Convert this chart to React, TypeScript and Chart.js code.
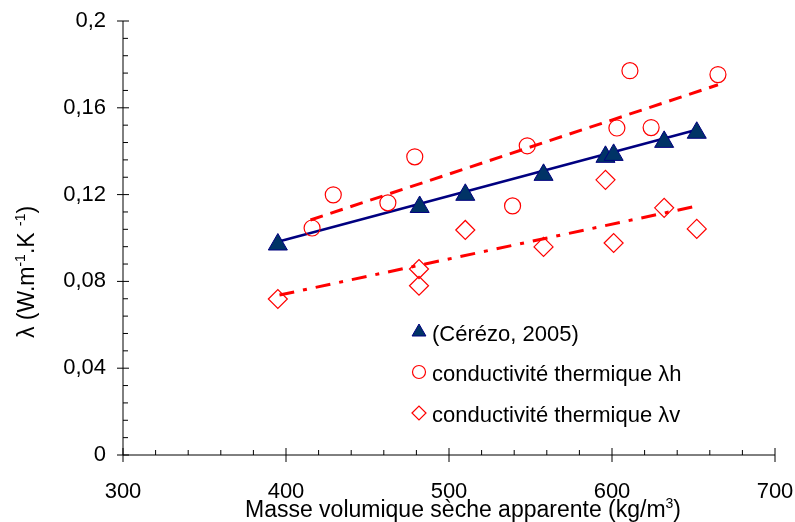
import React, { useEffect, useRef } from 'react';
import { Chart, registerables } from 'chart.js';

Chart.register(...registerables);

// ---- Data ----
const cerezoX = [395, 482, 510, 558, 596, 601, 632, 652];
const cerezoY = [0.097, 0.1143, 0.1199, 0.1291, 0.1374, 0.1383, 0.1443, 0.1485];

const lambdaHX = [416, 429, 462.5, 479, 539, 548, 603, 611, 624, 665];
const lambdaHY = [0.1046, 0.1199, 0.1162, 0.1374, 0.1148, 0.1425, 0.1507, 0.1771, 0.1509, 0.1753];

const lambdaVX = [395, 481.6, 481.6, 510, 558, 596, 601, 632, 652];
const lambdaVY = [0.0719, 0.0857, 0.078, 0.1037, 0.0959, 0.1268, 0.0977, 0.1139, 0.1042];

const fitCerezoX = [395, 652];
const fitCerezoY = [0.0983, 0.1499];
const fitHX = [415, 665];
const fitHY = [0.1083, 0.1706];
const fitVX = [396, 652];
const fitVY = [0.0737, 0.1147];

const xTicks = [300, 400, 500, 600, 700];
const xTickLabels = ['300', '400', '500', '600', '700'];
const yTicks = [0, 0.04, 0.08, 0.12, 0.16, 0.2];
const yTickLabels = ['0', '0,04', '0,08', '0,12', '0,16', '0,2'];

const seriesLabels = ['(Cérézo, 2005)', 'conductivité thermique λh', 'conductivité thermique λv'];

const FONT = '"Liberation Sans", Arial, sans-serif';
const NAVY = '#000080';
const NAVY_FILL = '#003366';
const RED = '#FF0000';

const toPts = (xs: number[], ys: number[]) => xs.map((x, i) => ({ x, y: ys[i] }));

function drawParts(ctx: CanvasRenderingContext2D, parts: { t: string; sup?: boolean }[], cx: number, baseY: number, size: number, supSize: number, raise: number) {
  const widths = parts.map((p) => {
    ctx.font = `${p.sup ? supSize : size}px ${FONT}`;
    return ctx.measureText(p.t).width;
  });
  const total = widths.reduce((a, b) => a + b, 0);
  let x = cx - total / 2;
  ctx.textAlign = 'left';
  ctx.textBaseline = 'alphabetic';
  parts.forEach((p, i) => {
    ctx.font = `${p.sup ? supSize : size}px ${FONT}`;
    ctx.fillText(p.t, x, p.sup ? baseY - raise : baseY);
    x += widths[i];
  });
}

const decorPlugin = {
  id: 'decor',
  afterDraw(chart: any) {
    const ctx: CanvasRenderingContext2D = chart.ctx;
    const xs = chart.scales.x;
    const ys = chart.scales.y;
    const ax = xs.getPixelForValue(xTicks[0]);
    const axEnd = xs.getPixelForValue(xTicks[xTicks.length - 1]);
    const ay = ys.getPixelForValue(yTicks[0]);
    const ayTop = ys.getPixelForValue(yTicks[yTicks.length - 1]);

    ctx.save();
    ctx.strokeStyle = '#000';
    ctx.lineWidth = 1;
    ctx.beginPath();
    ctx.moveTo(ax, ayTop);
    ctx.lineTo(ax, ay);
    ctx.lineTo(axEnd, ay);
    // y ticks: major every 0.04, minor every 0.008
    for (let i = 0; i <= 25; i++) {
      const py = ys.getPixelForValue(i * 0.008);
      if (i % 5 === 0) {
        ctx.moveTo(ax - 6, py);
        ctx.lineTo(ax + 6, py);
      } else {
        ctx.moveTo(ax, py);
        ctx.lineTo(ax + 5, py);
      }
    }
    // x ticks: major every 100, minor every 20
    for (let i = 0; i <= 20; i++) {
      const px = xs.getPixelForValue(300 + i * 20);
      if (i % 5 === 0) {
        ctx.moveTo(px, ay - 7);
        ctx.lineTo(px, ay + 7);
      } else {
        ctx.moveTo(px, ay - 5);
        ctx.lineTo(px, ay);
      }
    }
    ctx.stroke();

    // Tick labels
    ctx.fillStyle = '#000';
    ctx.font = `22px ${FONT}`;
    ctx.textAlign = 'right';
    ctx.textBaseline = 'middle';
    yTicks.forEach((v, i) => {
      ctx.fillText(yTickLabels[i], ax - 17, ys.getPixelForValue(v));
    });
    ctx.textAlign = 'center';
    ctx.textBaseline = 'alphabetic';
    xTicks.forEach((v, i) => {
      ctx.fillText(xTickLabels[i], xs.getPixelForValue(v), ay + 43);
    });

    // Axis titles
    drawParts(ctx, [{ t: 'Masse volumique sèche apparente (kg/m' }, { t: '3', sup: true }, { t: ')' }], 463, 517, 23, 14, 9);

    ctx.save();
    ctx.translate(34, 272);
    ctx.rotate(-Math.PI / 2);
    drawParts(ctx, [{ t: 'λ (W.m' }, { t: '-1', sup: true }, { t: '.K ' }, { t: '-1', sup: true }, { t: ')' }], 0, 0, 23, 14, 9);
    ctx.restore();

    // Legend
    const lx = 419;
    const rows = [332, 372, 413];
    ctx.beginPath();
    const r = 8;
    ctx.moveTo(lx, rows[0] - r);
    ctx.lineTo(lx + r * Math.sin((2 * Math.PI) / 3), rows[0] + r / 2);
    ctx.lineTo(lx - r * Math.sin((2 * Math.PI) / 3), rows[0] + r / 2);
    ctx.closePath();
    ctx.fillStyle = NAVY_FILL;
    ctx.fill();
    ctx.strokeStyle = NAVY;
    ctx.lineWidth = 1;
    ctx.stroke();
    ctx.beginPath();
    ctx.arc(lx, rows[1], 6.5, 0, Math.PI * 2);
    ctx.strokeStyle = RED;
    ctx.lineWidth = 1.2;
    ctx.stroke();
    ctx.beginPath();
    const d = 7;
    ctx.moveTo(lx - d, rows[2]);
    ctx.lineTo(lx, rows[2] - d);
    ctx.lineTo(lx + d, rows[2]);
    ctx.lineTo(lx, rows[2] + d);
    ctx.closePath();
    ctx.stroke();

    ctx.fillStyle = '#000';
    ctx.font = `22px ${FONT}`;
    ctx.textAlign = 'left';
    ctx.textBaseline = 'alphabetic';
    seriesLabels.forEach((lab, i) => {
      ctx.fillText(lab, 432, rows[i] + 8.5);
    });
    ctx.restore();
  },
};

export default function App() {
  const canvasRef = useRef<HTMLCanvasElement | null>(null);

  useEffect(() => {
    if (!canvasRef.current) return;
    const chart = new Chart(canvasRef.current, {
      type: 'scatter',
      data: {
        datasets: [
          {
            label: seriesLabels[0],
            data: toPts(cerezoX, cerezoY),
            pointStyle: 'triangle',
            pointRadius: 11,
            backgroundColor: NAVY_FILL,
            borderColor: NAVY,
            borderWidth: 1,
            showLine: false,
          },
          {
            label: seriesLabels[1],
            data: toPts(lambdaHX, lambdaHY),
            pointStyle: 'circle',
            pointRadius: 8,
            backgroundColor: 'rgba(0,0,0,0)',
            borderColor: RED,
            borderWidth: 1.2,
            showLine: false,
          },
          {
            label: seriesLabels[2],
            data: toPts(lambdaVX, lambdaVY),
            pointStyle: 'rectRot',
            pointRadius: 9.5,
            backgroundColor: 'rgba(0,0,0,0)',
            borderColor: RED,
            borderWidth: 1.2,
            showLine: false,
          },
          {
            type: 'line',
            label: 'fit Cérézo',
            data: toPts(fitCerezoX, fitCerezoY),
            borderColor: NAVY,
            borderWidth: 2.5,
            pointRadius: 0,
            fill: false,
          } as any,
          {
            type: 'line',
            label: 'fit λh',
            data: toPts(fitHX, fitHY),
            borderColor: RED,
            borderWidth: 3,
            borderDash: [13, 8],
            pointRadius: 0,
            fill: false,
          } as any,
          {
            type: 'line',
            label: 'fit λv',
            data: toPts(fitVX, fitVY),
            borderColor: RED,
            borderWidth: 3,
            borderDash: [15, 9, 4, 9],
            pointRadius: 0,
            fill: false,
          } as any,
        ],
      },
      options: {
        animation: false,
        responsive: true,
        maintainAspectRatio: false,
        layout: { padding: { left: 0, top: 21, right: 20, bottom: 0 } },
        plugins: {
          legend: { display: false },
          tooltip: { enabled: false },
          title: { display: false },
        },
        scales: {
          x: {
            type: 'linear',
            min: 300,
            max: 700,
            grid: { display: false, drawTicks: false },
            border: { display: false },
            ticks: { display: false },
            afterFit: (s: any) => {
              s.height = 67;
            },
          },
          y: {
            type: 'linear',
            min: 0,
            max: 0.2,
            grid: { display: false, drawTicks: false },
            border: { display: false },
            ticks: { display: false },
            afterFit: (s: any) => {
              s.width = 123;
            },
          },
        },
      },
      plugins: [decorPlugin],
    });
    return () => chart.destroy();
  }, []);

  return (
    <div style={{ position: 'absolute', left: 0, top: 0, width: 795, height: 522, background: '#fff' }}>
      <canvas ref={canvasRef} style={{ width: '100%', height: '100%' }} />
    </div>
  );
}
